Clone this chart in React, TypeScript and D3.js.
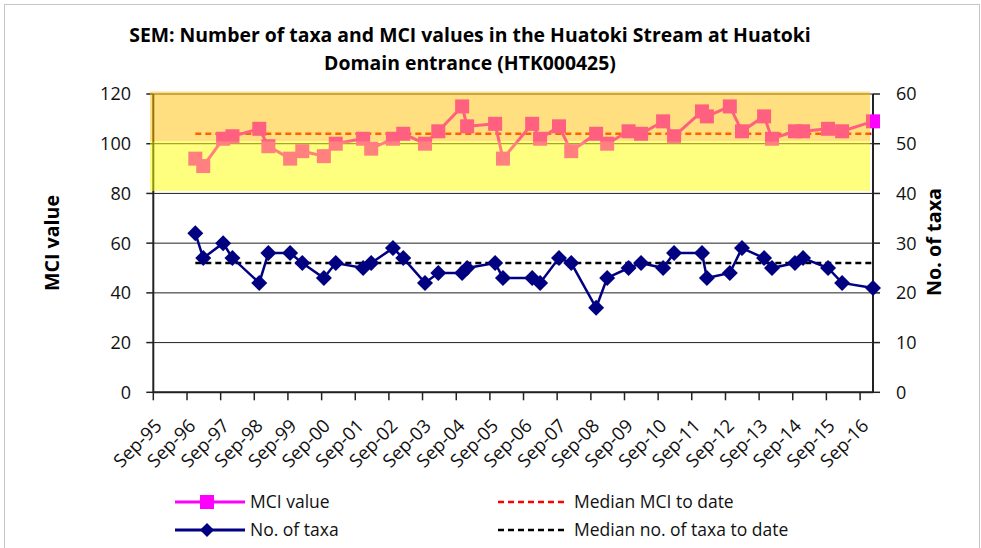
import React from "react";
import * as d3 from "d3";

const sampleDates = [
  "1996-11-30", "1997-02-24", "1997-09-28", "1998-01-07", "1998-10-25", "1999-02-01",
  "1999-09-25", "2000-02-04", "2000-09-25", "2001-02-01", "2001-11-25", "2002-02-21",
  "2002-10-15", "2003-02-04", "2003-09-28", "2004-02-19", "2004-11-04", "2004-12-28",
  "2005-10-28", "2006-01-21", "2006-12-04", "2007-02-28", "2007-09-21", "2008-02-01",
  "2008-10-28", "2009-02-25", "2009-10-15", "2010-02-28", "2010-10-25", "2011-02-21",
  "2011-12-21", "2012-02-12", "2012-10-18", "2013-02-27", "2013-10-25", "2014-01-19",
  "2014-09-25", "2014-12-22", "2015-09-19", "2016-02-19", "2017-01-19",
];
const mciValues = [
  94, 91, 102, 103, 106, 99, 94, 97, 95, 100, 102, 98, 102, 104, 100, 105, 115, 107, 108, 94,
  108, 102, 107, 97, 104, 100, 105, 104, 109, 103, 113, 111, 115, 105, 111, 102, 105, 105, 106,
  105, 109,
];
const taxaValues = [
  32, 27, 30, 27, 22, 28, 28, 26, 23, 26, 25, 26, 29, 27, 22, 24, 24, 25, 26, 23, 23, 22, 27,
  26, 17, 23, 25, 26, 25, 28, 28, 23, 24, 29, 27, 25, 26, 27, 25, 22, 21,
];
const medianMCI = 104;
const medianTaxa = 26;
const xTickLabels = [
  "Sep-95", "Sep-96", "Sep-97", "Sep-98", "Sep-99", "Sep-00", "Sep-01", "Sep-02", "Sep-03",
  "Sep-04", "Sep-05", "Sep-06", "Sep-07", "Sep-08", "Sep-09", "Sep-10", "Sep-11", "Sep-12",
  "Sep-13", "Sep-14", "Sep-15", "Sep-16",
];
const leftTicks = [0, 20, 40, 60, 80, 100, 120];
const rightTicks = [0, 10, 20, 30, 40, 50, 60];
const bandGood = [80, 100];
const bandExcellent = [100, 120];
const titleLines = [
  "SEM: Number of taxa and MCI values in the Huatoki Stream at Huatoki",
  "Domain entrance (HTK000425)",
];

const FONT = "'Open Sans', 'Noto Sans', sans-serif";

export default function App() {
  const parse = d3.timeParse("%Y-%m-%d");
  const dates = sampleDates.map((s) => parse(s) as Date);
  const tickDates = xTickLabels.map((l) => {
    const yy = +l.slice(4);
    return new Date((yy < 50 ? 2000 : 1900) + yy, 8, 1);
  });

  const x = d3
    .scaleTime()
    .domain([new Date(1995, 8, 1), new Date(2017, 0, 19)])
    .range([153.3, 873]);
  const yL = d3.scaleLinear().domain([0, 120]).range([392.3, 94]);
  const yR = d3.scaleLinear().domain([0, 60]).range([392.3, 94]);

  const xL = x.range()[0];
  const xR = x.range()[1];

  const mciLine = d3
    .line<number>()
    .x((_, i) => x(dates[i]))
    .y((d) => yL(d));
  const taxaLine = d3
    .line<number>()
    .x((_, i) => x(dates[i]))
    .y((d) => yR(d));

  const x0 = x(dates[0]);
  const x1 = x(dates[dates.length - 1]);
  const sq = 14;
  const dm = 8;
  const diamond = (cx: number, cy: number, r: number) =>
    `M${cx},${cy - r}L${cx + r},${cy}L${cx},${cy + r}L${cx - r},${cy}Z`;

  return (
    <svg
      width={981}
      height={548}
      style={{ position: "absolute", left: 0, top: 0, background: "#fff" }}
      fontFamily={FONT}
    >
      <rect x={4.5} y={4.5} width={975} height={600} fill="#fff" stroke="#c6c6c6" />

      {/* title */}
      {titleLines.map((t, i) => (
        <text
          key={i}
          x={470}
          y={42 + i * 28}
          textAnchor="middle"
          fontWeight="bold"
          fontSize={19.4}
          fill="#000"
        >
          {t}
        </text>
      ))}

      {/* gridlines */}
      {leftTicks.map((t) => (
        <line key={t} x1={xL} x2={xR} y1={yL(t)} y2={yL(t)} stroke="#222" strokeWidth={1} />
      ))}

      {/* axes */}
      <line x1={xL} x2={xL} y1={yL(0)} y2={yL(120)} stroke="#222" strokeWidth={2} />
      <line x1={xR} x2={xR} y1={yL(0)} y2={yL(120)} stroke="#222" strokeWidth={2} />
      <line x1={xL} x2={xR} y1={yL(0)} y2={yL(0)} stroke="#222" strokeWidth={2} />
      {leftTicks.map((t) => (
        <g key={"l" + t}>
          <line x1={xL - 7} x2={xL} y1={yL(t)} y2={yL(t)} stroke="#222" strokeWidth={1.5} />
          <text x={131} y={yL(t)} dy="0.36em" textAnchor="end" fontSize={18} fill="#111">
            {t}
          </text>
        </g>
      ))}
      {rightTicks.map((t) => (
        <g key={"r" + t}>
          <line x1={xR} x2={xR + 7} y1={yR(t)} y2={yR(t)} stroke="#222" strokeWidth={1.5} />
          <text x={896} y={yR(t)} dy="0.36em" textAnchor="start" fontSize={18} fill="#111">
            {t}
          </text>
        </g>
      ))}
      {tickDates.map((d, i) => (
        <g key={"x" + i}>
          <line x1={x(d)} x2={x(d)} y1={yL(0)} y2={yL(0) + 8} stroke="#222" strokeWidth={1.5} />
          <text
            transform={`translate(${x(d) + 5},${yL(0) + 30}) rotate(-45)`}
            textAnchor="end"
            dy="0.36em"
            fontSize={18.5}
            fill="#111"
          >
            {xTickLabels[i]}
          </text>
        </g>
      ))}

      {/* axis titles */}
      <text
        transform={`translate(59,243) rotate(-90)`}
        textAnchor="middle"
        fontWeight="bold"
        fontSize={19.6}
        fill="#000"
      >
        MCI value
      </text>
      <text
        transform={`translate(941,242) rotate(-90)`}
        textAnchor="middle"
        fontWeight="bold"
        fontSize={19.8}
        fill="#000"
      >
        No. of taxa
      </text>

      {/* median lines */}
      <line x1={x0} x2={x1} y1={yL(medianMCI)} y2={yL(medianMCI)} stroke="#ff0000" strokeWidth={2.5} strokeDasharray="6,4" />
      <line x1={x0} x2={x1} y1={yR(medianTaxa)} y2={yR(medianTaxa)} stroke="#000" strokeWidth={2.5} strokeDasharray="6,4" />

      {/* taxa series */}
      <path d={taxaLine(taxaValues) || ""} fill="none" stroke="#000080" strokeWidth={2.5} />
      {taxaValues.map((v, i) => (
        <path key={"t" + i} d={diamond(x(dates[i]), yR(v), dm)} fill="#000080" />
      ))}

      {/* MCI series */}
      <path d={mciLine(mciValues) || ""} fill="none" stroke="#ff00ff" strokeWidth={3} />
      {mciValues.map((v, i) => (
        <rect
          key={"m" + i}
          x={x(dates[i]) - sq / 2}
          y={yL(v) - sq / 2}
          width={sq}
          height={sq}
          fill="#ff00ff"
        />
      ))}

      {/* quality bands, semi-transparent on top */}
      <rect
        x={150}
        y={yL(bandExcellent[1]) - 2.5}
        width={870 - 150}
        height={yL(bandExcellent[0]) - yL(bandExcellent[1])}
        fill="#ffc000"
        fillOpacity={0.5}
      />
      <rect
        x={150}
        y={yL(bandGood[1]) - 2.5}
        width={870 - 150}
        height={yL(bandGood[0]) - yL(bandGood[1])}
        fill="#ffff00"
        fillOpacity={0.5}
      />

      {/* legend */}
      <g fontSize={17.5} fill="#111">
        <line x1={175} x2={245} y1={502} y2={502} stroke="#ff00ff" strokeWidth={3} />
        <rect x={200} y={495} width={14} height={14} fill="#ff00ff" />
        <text x={250} y={502} dy="0.36em">MCI value</text>
        <line x1={175} x2={245} y1={530} y2={530} stroke="#000080" strokeWidth={3} />
        <path d={diamond(207, 530, 7)} fill="#000080" />
        <text x={250} y={530} dy="0.36em">No. of taxa</text>
        <line x1={498} x2={567} y1={502} y2={502} stroke="#ff0000" strokeWidth={2.5} strokeDasharray="6,4" />
        <text x={574} y={502} dy="0.36em">Median MCI to date</text>
        <line x1={498} x2={567} y1={530} y2={530} stroke="#000" strokeWidth={2.5} strokeDasharray="6,4" />
        <text x={574} y={530} dy="0.36em">Median no. of taxa to date</text>
      </g>
    </svg>
  );
}
